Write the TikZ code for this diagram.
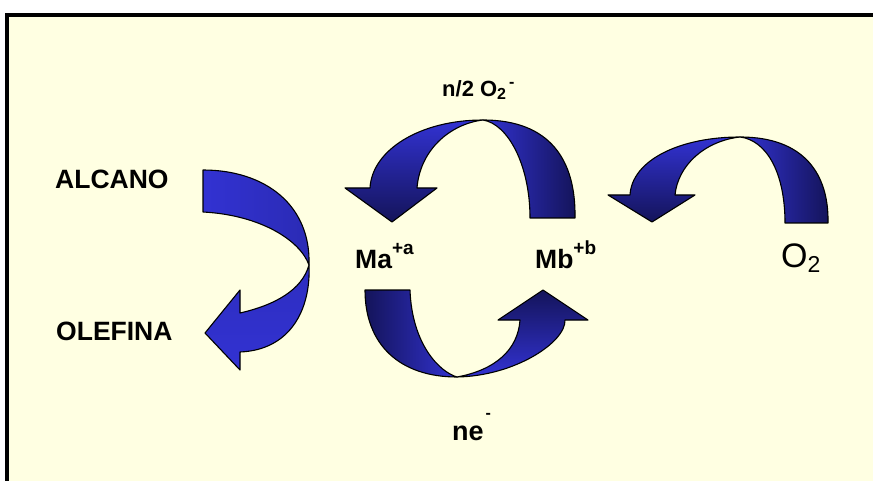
\documentclass[tikz,border=0pt]{standalone}
\usepackage{fontspec}
\setmainfont{Liberation Sans}
\definecolor{bg}{RGB}{255,255,226}
\definecolor{bmain}{RGB}{50,50,210}
\definecolor{bdark}{RGB}{20,20,90}
\tikzset{
  ribbon/.style={draw=black, line width=1.1pt, line join=round},
  lbl/.style={anchor=base west, inner sep=0pt, font=\bfseries\fontsize{26.5}{26.5}\selectfont},
}
\begin{document}
\begin{tikzpicture}[x=1pt,y=-1pt]
\useasboundingbox (0,0) rectangle (873,481);
\fill[white] (0,0) rectangle (873,481);
\fill[bg] (7,15) rectangle (873,481);
\draw[line width=4pt] (7,481) -- (7,15) -- (873,15);

% left arrow (ALCANO -> OLEFINA)
\path[ribbon, top color=bmain!85!bdark, bottom color=bmain]
  (309,265) .. controls (311,310) and (290,350) .. (240,352) -- (240,370) -- (205,333) -- (240,290) -- (240,313)
  .. controls (275,305) and (302,290) .. (309,265) -- cycle;
\path[ribbon, left color=bmain, right color=bmain!75!bdark]
  (203,170) .. controls (265,170) and (311,205) .. (309,265)
  .. controls (300,240) and (260,215) .. (203,212) -- cycle;

% top arrow (Mb -> Ma)
\path[ribbon, top color=bmain, bottom color=bdark]
  (483,120) .. controls (420,120) and (372,150) .. (370,188) -- (345,188) -- (392,222) -- (437,188) -- (417,188)
  .. controls (420,150) and (450,124) .. (483,120) -- cycle;
\path[ribbon, left color=bmain, right color=bdark]
  (483,120) .. controls (550,120) and (576,160) .. (575,218) -- (530,218)
  .. controls (530,165) and (508,124) .. (483,120) -- cycle;

% right arrow (O2 -> Mb)
\path[ribbon, top color=bmain, bottom color=bdark]
  (740,137) .. controls (680,137) and (632,160) .. (630,195) -- (608,195) -- (652,222) -- (695,195) -- (675,195)
  .. controls (678,165) and (705,141) .. (740,137) -- cycle;
\path[ribbon, left color=bmain, right color=bdark]
  (740,137) .. controls (805,137) and (829,175) .. (828,223) -- (785,223)
  .. controls (785,170) and (765,140) .. (740,137) -- cycle;

% bottom arrow (Ma -> Mb)
\path[ribbon, left color=bdark, right color=bmain]
  (365,290) -- (410,290) .. controls (412,345) and (440,372) .. (457,377)
  .. controls (400,377) and (365,345) .. (365,290) -- cycle;
\path[ribbon, top color=bdark, bottom color=bmain]
  (457,377) .. controls (515,376) and (566,342) .. (565,320) -- (588,320) -- (543,290) -- (498,320) -- (520,320)
  .. controls (518,350) and (495,370) .. (457,377) -- cycle;

% labels
\node[lbl] (alcano) at (55,189) {ALCANO};
\node[lbl] (olefina) at (56,340) {OLEFINA};
\node[lbl] (ma) at (355,269) {Ma\raisebox{14pt}{\fontsize{19}{19}\selectfont +a}};
\node[lbl] (mb) at (535,269) {Mb\raisebox{14pt}{\fontsize{19}{19}\selectfont +b}};
\node[anchor=base west, inner sep=0pt, font=\fontsize{34}{34}\selectfont] (o2) at (781,268) {O\raisebox{-5pt}{\fontsize{23}{23}\selectfont 2}};
\node[lbl, font=\bfseries\fontsize{22}{22}\selectfont] (n2) at (442,97) {n/2 O\raisebox{-3pt}{\fontsize{16}{16}\selectfont 2}\hspace{3pt}\raisebox{9pt}{\fontsize{16}{16}\selectfont -}};
\node[lbl, font=\bfseries\fontsize{27}{27}\selectfont] (ne) at (452,440) {ne\hspace{2pt}\raisebox{22pt}{\fontsize{16}{16}\selectfont -}};
\end{tikzpicture}
\end{document}
